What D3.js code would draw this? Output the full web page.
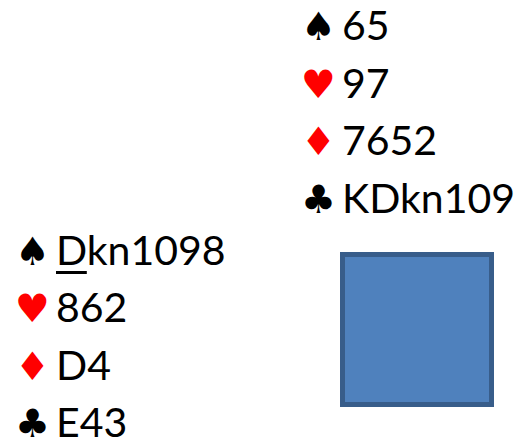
<!DOCTYPE html>
<html><head><meta charset="utf-8">
<script src="https://cdn.jsdelivr.net/npm/d3@7"></script>
<style>body{margin:0;background:#fff}svg{display:block}</style>
</head><body>
<script>
const suits = ["♠", "♥", "♦", "♣"];
const suitColors = ["#000000", "#ff0000", "#ff0000", "#000000"];
const northCards = ["65", "97", "7652", "KDkn109"];
const westCards = ["Dkn1098", "862", "D4", "E43"];
const westUnderline = [1, 0, 0, 0]; // number of leading underlined characters

const W = 520, H = 442;
const svg = d3.select("body").append("svg").attr("width", W).attr("height", H);

const rowIdx = d3.range(suits.length);
const yNorth = d3.scalePoint().domain(rowIdx).range([40, 213]);
const yWest = d3.scalePoint().domain(rowIdx).range([265, 437]);

function hand(g, y, x0, cards, underline) {
  const rows = g.selectAll("g.row").data(rowIdx).join("g").attr("class", "row")
    .attr("transform", i => `translate(0,${y(i)})`);
  rows.append("text").attr("x", x0).attr("y", 0)
    .attr("font-family", "DejaVu Sans").attr("font-size", 39)
    .attr("fill", i => suitColors[i]).text(i => suits[i]);
  const t = rows.append("text").attr("x", x0 + 41).attr("y", 0)
    .attr("font-family", "Lato, 'Open Sans', sans-serif").attr("font-size", 41)
    .attr("fill", "#000").text(i => cards[i]);
  t.each(function(i) {
    const u = underline ? underline[i] : 0;
    if (u > 0) {
      const w = this.getSubStringLength(0, u);
      g.append("rect").attr("x", x0 + 41).attr("y", y(i) + 6)
        .attr("width", w).attr("height", 3).attr("fill", "#000");
    }
  });
}

hand(svg.append("g"), yNorth, 301, northCards, null);
hand(svg.append("g"), yWest, 15, westCards, westUnderline);

svg.append("rect").attr("x", 342.5).attr("y", 254.5).attr("width", 149).attr("height", 150)
  .attr("fill", "#4f81bd").attr("stroke", "#385d8a").attr("stroke-width", 5);
</script>
</body></html>
